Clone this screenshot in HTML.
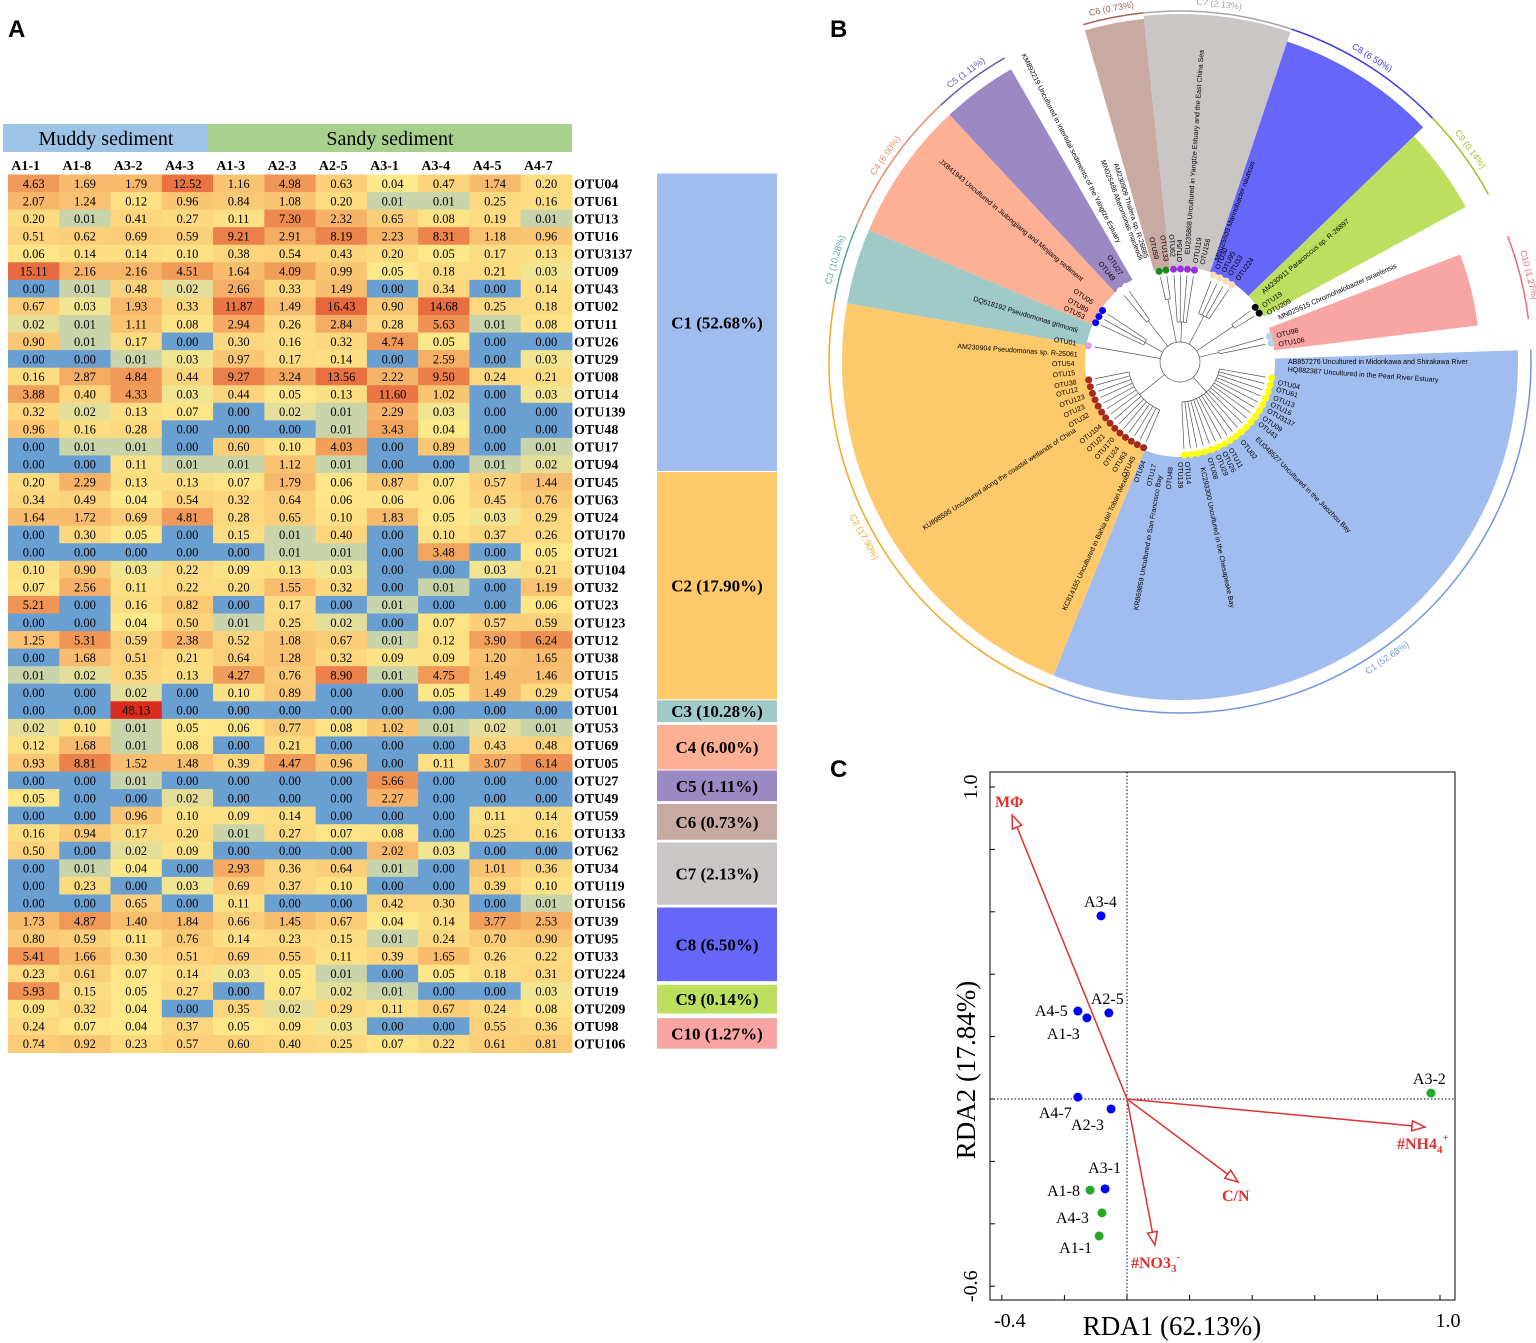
<!DOCTYPE html>
<html><head><meta charset="utf-8">
<style>
body{margin:0;background:#fff;width:1536px;height:1343px;overflow:hidden}
svg{display:block}
text{font-family:"Liberation Serif",serif}
.sans{font-family:"Liberation Sans",sans-serif}
</style></head>
<body>
<svg id="fig" width="1536" height="1343" viewBox="0 0 1536 1343" xmlns="http://www.w3.org/2000/svg">
<text class="sans" x="8" y="37" font-size="24" font-weight="bold">A</text>
<text class="sans" x="830" y="37" font-size="24" font-weight="bold">B</text>
<text class="sans" x="830" y="777" font-size="24" font-weight="bold">C</text>
<g id="heat"></g>
<g id="tree"></g>
<g id="rda"></g>
</svg>
<script>
const NS="http://www.w3.org/2000/svg";
function mk(parent,tag,attrs,txt){const e=document.createElementNS(NS,tag);for(const k in attrs)e.setAttribute(k,attrs[k]);if(txt!==undefined)e.textContent=txt;parent.appendChild(e);return e;}

// ---------- Heatmap data ----------
const samples=["A1-1","A1-8","A3-2","A4-3","A1-3","A2-3","A2-5","A3-1","A3-4","A4-5","A4-7"];
const otus=["OTU04","OTU61","OTU13","OTU16","OTU3137","OTU09","OTU43","OTU02","OTU11","OTU26","OTU29","OTU08","OTU14","OTU139","OTU48","OTU17","OTU94","OTU45","OTU63","OTU24","OTU170","OTU21","OTU104","OTU32","OTU23","OTU123","OTU12","OTU38","OTU15","OTU54","OTU01","OTU53","OTU69","OTU05","OTU27","OTU49","OTU59","OTU133","OTU62","OTU34","OTU119","OTU156","OTU39","OTU95","OTU33","OTU224","OTU19","OTU209","OTU98","OTU106"];
const abund=[
[4.63,1.69,1.79,12.52,1.16,4.98,0.63,0.04,0.47,1.74,0.20],
[2.07,1.24,0.12,0.96,0.84,1.08,0.20,0.01,0.01,0.25,0.16],
[0.20,0.01,0.41,0.27,0.11,7.30,2.32,0.65,0.08,0.19,0.01],
[0.51,0.62,0.69,0.59,9.21,2.91,8.19,2.23,8.31,1.18,0.96],
[0.06,0.14,0.14,0.10,0.38,0.54,0.43,0.20,0.05,0.17,0.13],
[15.11,2.16,2.16,4.51,1.64,4.09,0.99,0.05,0.18,0.21,0.03],
[0.00,0.01,0.48,0.02,2.66,0.33,1.49,0.00,0.34,0.00,0.14],
[0.67,0.03,1.93,0.33,11.87,1.49,16.43,0.90,14.68,0.25,0.18],
[0.02,0.01,1.11,0.08,2.94,0.26,2.84,0.28,5.63,0.01,0.08],
[0.90,0.01,0.17,0.00,0.30,0.16,0.32,4.74,0.05,0.00,0.00],
[0.00,0.00,0.01,0.03,0.97,0.17,0.14,0.00,2.59,0.00,0.03],
[0.16,2.87,4.84,0.44,9.27,3.24,13.56,2.22,9.50,0.24,0.21],
[3.88,0.40,4.33,0.03,0.44,0.05,0.13,11.60,1.02,0.00,0.03],
[0.32,0.02,0.13,0.07,0.00,0.02,0.01,2.29,0.03,0.00,0.00],
[0.96,0.16,0.28,0.00,0.00,0.00,0.01,3.43,0.04,0.00,0.00],
[0.00,0.01,0.01,0.00,0.60,0.10,4.03,0.00,0.89,0.00,0.01],
[0.00,0.00,0.11,0.01,0.01,1.12,0.01,0.00,0.00,0.01,0.02],
[0.20,2.29,0.13,0.13,0.07,1.79,0.06,0.87,0.07,0.57,1.44],
[0.34,0.49,0.04,0.54,0.32,0.64,0.06,0.06,0.06,0.45,0.76],
[1.64,1.72,0.69,4.81,0.28,0.65,0.10,1.83,0.05,0.03,0.29],
[0.00,0.30,0.05,0.00,0.15,0.01,0.40,0.00,0.10,0.37,0.26],
[0.00,0.00,0.00,0.00,0.00,0.01,0.01,0.00,3.48,0.00,0.05],
[0.10,0.90,0.03,0.22,0.09,0.13,0.03,0.00,0.00,0.03,0.21],
[0.07,2.56,0.11,0.22,0.20,1.55,0.32,0.00,0.01,0.00,1.19],
[5.21,0.00,0.16,0.82,0.00,0.17,0.00,0.01,0.00,0.00,0.06],
[0.00,0.00,0.04,0.50,0.01,0.25,0.02,0.00,0.07,0.57,0.59],
[1.25,5.31,0.59,2.38,0.52,1.08,0.67,0.01,0.12,3.90,6.24],
[0.00,1.68,0.51,0.21,0.64,1.28,0.32,0.09,0.09,1.20,1.65],
[0.01,0.02,0.35,0.13,4.27,0.76,8.90,0.01,4.75,1.49,1.46],
[0.00,0.00,0.02,0.00,0.10,0.89,0.00,0.00,0.05,1.49,0.29],
[0.00,0.00,48.13,0.00,0.00,0.00,0.00,0.00,0.00,0.00,0.00],
[0.02,0.10,0.01,0.05,0.06,0.77,0.08,1.02,0.01,0.02,0.01],
[0.12,1.68,0.01,0.08,0.00,0.21,0.00,0.00,0.00,0.43,0.48],
[0.93,8.81,1.52,1.48,0.39,4.47,0.96,0.00,0.11,3.07,6.14],
[0.00,0.00,0.01,0.00,0.00,0.00,0.00,5.66,0.00,0.00,0.00],
[0.05,0.00,0.00,0.02,0.00,0.00,0.00,2.27,0.00,0.00,0.00],
[0.00,0.00,0.96,0.10,0.09,0.14,0.00,0.00,0.00,0.11,0.14],
[0.16,0.94,0.17,0.20,0.01,0.27,0.07,0.08,0.00,0.25,0.16],
[0.50,0.00,0.02,0.09,0.00,0.00,0.00,2.02,0.03,0.00,0.00],
[0.00,0.01,0.04,0.00,2.93,0.36,0.64,0.01,0.00,1.01,0.36],
[0.00,0.23,0.00,0.03,0.69,0.37,0.10,0.00,0.00,0.39,0.10],
[0.00,0.00,0.65,0.00,0.11,0.00,0.00,0.42,0.30,0.00,0.01],
[1.73,4.87,1.40,1.84,0.66,1.45,0.67,0.04,0.14,3.77,2.53],
[0.80,0.59,0.11,0.76,0.14,0.23,0.15,0.01,0.24,0.70,0.90],
[5.41,1.66,0.30,0.51,0.69,0.55,0.11,0.39,1.65,0.26,0.22],
[0.23,0.61,0.07,0.14,0.03,0.05,0.01,0.00,0.05,0.18,0.31],
[5.93,0.15,0.05,0.27,0.00,0.07,0.02,0.01,0.00,0.00,0.03],
[0.09,0.32,0.04,0.00,0.35,0.02,0.29,0.11,0.67,0.24,0.08],
[0.24,0.07,0.04,0.37,0.05,0.09,0.03,0.00,0.00,0.55,0.36],
[0.74,0.92,0.23,0.57,0.60,0.40,0.25,0.07,0.22,0.61,0.81]];
const clusterNames=["C1 (52.68%)","C2 (17.90%)","C3 (10.28%)","C4 (6.00%)","C5 (1.11%)","C6 (0.73%)","C7 (2.13%)","C8 (6.50%)","C9 (0.14%)","C10 (1.27%)"];
// cluster box spans in row units (start row, end row)
const clusterSpan=[[0,17],[17,30],[30,31.3],[31.4,34],[34,35.8],[35.9,38],[38.1,41.7],[41.8,46.05],[46.2,47.9],[48.1,49.9]];
const clusterColors=["#a1bdef","#fdc96a","#9fcac8","#fdb094","#9b89c4","#c9aaa2","#cac6c5","#6666fb","#bddf5f","#f9a5a3"];

const heat=document.getElementById('heat');
const hx0=8,hy0=174.5,cw=51.27,rh=17.56;
function lerp(a,b,t){return Math.round(a+(b-a)*t);}
function hex(c){return [parseInt(c.slice(1,3),16),parseInt(c.slice(3,5),16),parseInt(c.slice(5,7),16)];}
const stops=[[-2,"#c9d4aa"],[-1.4,"#fde98a"],[-0.3,"#fcd37c"],[0.3,"#f7b86b"],[0.8,"#ee8f52"],[1.2,"#e86a3e"],[1.7,"#d82a1e"]];
function colorOf(v){
  if(v<=0)return "#6a9fd2";
  const l=Math.log10(v);
  if(l<=stops[0][0])return stops[0][1];
  for(let i=1;i<stops.length;i++){if(l<=stops[i][0]){const t=(l-stops[i-1][0])/(stops[i][0]-stops[i-1][0]);const a=hex(stops[i-1][1]),b=hex(stops[i][1]);return `rgb(${lerp(a[0],b[0],t)},${lerp(a[1],b[1],t)},${lerp(a[2],b[2],t)})`;}}
  return stops[stops.length-1][1];
}
let e;
e=mk(heat,'rect',{x:3,y:124,width:205,height:28,fill:"#9dc3e6"});


e=mk(heat,'text',{x:106,y:145,'font-size':20,'text-anchor':'middle'},"Muddy sediment");


e=mk(heat,'rect',{x:208,y:124,width:364,height:28,fill:"#a9d18e"});


e=mk(heat,'text',{x:390,y:145,'font-size':20,'text-anchor':'middle'},"Sandy sediment");


samples.forEach((s,j)=>{
  const t=mk(heat,'text',{x:hx0+cw*j+cw/2-8,y:170,'font-size':14,'font-weight':'bold','text-anchor':'middle'},s);
  
  
});
abund.forEach((row,i)=>{
  row.forEach((v,j)=>{
    const r=mk(heat,'rect',{x:hx0+cw*j,y:hy0+rh*i,width:cw+0.5,height:rh+0.5,fill:colorOf(v)});
    
    
    const t=mk(heat,'text',{x:hx0+cw*j+cw/2,y:hy0+rh*i+rh/2+4.5,'font-size':12.5,'text-anchor':'middle'},v.toFixed(2));
    
    
  });
  const t=mk(heat,'text',{x:574,y:hy0+rh*i+rh/2+5,'font-size':14,'font-weight':'bold'},otus[i]);
  
  
});
clusterSpan.forEach(([a,b],k)=>{
  const y1=hy0+rh*a-1, h=rh*(b-a)-1;
  const r=mk(heat,'rect',{x:657,y:y1,width:120,height:h,fill:clusterColors[k]});
  
  
  const t=mk(heat,'text',{x:717,y:y1+h/2+6,'font-size':17,'font-weight':'bold','text-anchor':'middle'},clusterNames[k]);
  
  
});

// ---------- Tree ----------
const tree=document.getElementById('tree');
const cx=1180,cy=362;
const wedgeStart=[-2,112,190,203,227,254,264,288.5,316,339];
const wedgeEnd=[112,190,203,227,240,264,288.5,316,331.5,353];
const ringLabels=["C1 (52.68%)","C2 (17.90%)","C3 (10.28%)","C4 (6.00%)","C5 (1.11%)","C6 (0.73%)","C7 (2.13%)","C8 (6.50%)","C9 (0.14%)","C10 (1.27%)"];
const ringColors=["#6f94e0","#f5a623","#5aa6a3","#f08a6a","#6b55a8","#a0645a","#a8a4a3","#3a3af0","#9bc526","#ef6a6a"];
const dotColors=["#ffff00","#a52a1a","#dda0dd","#0000ff","#ffffff","#1a8a1a","#9b30e0","#f5deb3","#000000","#add8e6"];
const dotCounts=[19,14,1,3,2,2,4,4,2,2];
function pt(a,r){const t=a*Math.PI/180;return [cx+r*Math.cos(t),cy+r*Math.sin(t)];}
function wedge(a0,a1,r0,r1){const p0=pt(a0,r0),p1=pt(a0,r1),p2=pt(a1,r1),p3=pt(a1,r0);const lg=(a1-a0)>180?1:0;
return `M${p0[0]},${p0[1]}L${p1[0]},${p1[1]}A${r1},${r1} 0 ${lg} 1 ${p2[0]},${p2[1]}L${p3[0]},${p3[1]}A${r0},${r0} 0 ${lg} 0 ${p0[0]},${p0[1]}Z`;}
function arc(a0,a1,r){const p1=pt(a0,r),p2=pt(a1,r);const lg=(a1-a0)>180?1:0;return `M${p1[0]},${p1[1]}A${r},${r} 0 ${lg} 1 ${p2[0]},${p2[1]}`;}
const wedgeOuter=[338,338,338,338,338,345,348,338,325,300];
wedgeStart.forEach((a0,k)=>{
  const w=mk(tree,'path',{d:wedge(a0,wedgeEnd[k],95,wedgeOuter[k]),fill:clusterColors[k]});
  
  
  const rg=mk(tree,'path',{d:arc(a0,wedgeEnd[k],351),fill:'none',stroke:ringColors[k],'stroke-width':1.5});
  
  
  const mid=(a0+wedgeEnd[k])/2;
  const low=(mid>0&&mid<180);
  const p=pt(mid,low?364:357);
  const t=mk(tree,'text',{x:p[0],y:p[1],'font-size':9,'class':'sans',fill:ringColors[k],'text-anchor':'middle',transform:`rotate(${low?mid-90:mid+90} ${p[0]} ${p[1]})`},ringLabels[k]);
  
  
});
const leafGap=4.3;
const leafStart=[10,113,190,205,230,257,266,291,324,344];
const tg=mk(tree,'g',{stroke:'#555','stroke-width':0.7,fill:'none'});


mk(tg,'path',{d:arc(0,359,20)});
leafStart.forEach((a0,k)=>{
  const n=dotCounts[k]; const aEnd=a0+leafGap*(n-1);
  const rIn=40+(k%3)*12;
  mk(tg,'path',{d:arc(a0-0.01,aEnd+0.01,rIn)});
  const pa=pt((a0+aEnd)/2,20),pb=pt((a0+aEnd)/2,rIn);
  mk(tg,'line',{x1:pa[0],y1:pa[1],x2:pb[0],y2:pb[1]});
  for(let i=0;i<n;i++){
    const a=a0+leafGap*i;
    const q1=pt(a,rIn),q2=pt(a,87);
    mk(tg,'line',{x1:q1[0],y1:q1[1],x2:q2[0],y2:q2[1]});
    const d=pt(a,93);
    const c=mk(tree,'circle',{cx:d[0],cy:d[1],r:3.5,fill:dotColors[k]});
    
    
  }
});
const leafNames=[["OTU04",12],["OTU61",16],["OTU13",21],["OTU16",25],["OTU3137",29],["OTU09",34],["OTU43",38],["OTU02",52],["OTU11",60],["OTU26",64],["OTU29",68],["OTU08",73],["OTU14",86],["OTU139",90],["OTU48",95],["OTU17",104],["OTU94",110],["OTU45",116],["OTU63",121],["OTU24",126],["OTU170",131],["OTU21",136],["OTU104",141],["OTU32",150],["OTU23",155],["OTU123",160],["OTU12",165],["OTU38",169],["OTU15",174],["OTU54",179],["OTU01",190],["OTU53",205],["OTU89",209],["OTU05",214],["OTU49",231],["OTU27",236],["OTU59",257],["OTU133",262],["OTU62",266],["OTU54",270],["OTU119",279],["OTU156",283],["OTU30",292],["OTU95",296],["OTU33",300],["OTU224",305],["OTU19",326],["OTU209",331],["OTU98",345],["OTU106",350]];
leafNames.forEach(([n,a])=>{
  const flip=(a>90&&a<270);
  const p=pt(a,flip?128:100);
  const t=mk(tree,'text',{x:p[0],y:p[1]+2,'font-size':7,'class':'sans',transform:`rotate(${flip?a+180:a} ${p[0]} ${p[1]})`},n);
  
  
});
const refLabels=[["AB857276 Uncultured in Midorikawa and Shirakawa River",0,108],["HQ882387 Uncultured in the Pearl River Estuary",4,108],["EU048527 Uncultured in the Jiaozhou Bay",45,108],["KC293300 Uncultured in the Chesapeake Bay",78,108],["KR869859 Uncultured in San Francisco Bay",100,108],["KC814155 Uncultured in Bahia del Tobari Mexico",115,108],["KU898595 Uncultured along the coastal wetlands of China",147,108],["AM230904 Pseudomonas sp. R-25061",184,108],["DQ518192 Pseudomonas grimontii",197,108],["JX841943 Uncultured in Jiulongjiang and Minjiang sediment",220,108],["KM892219 Uncultured in intertidal sediments of the Yangtze Estuary",243,108],["MN025486 Alteromonas macleodii",249,108],["AM230909 Thalera sp. R-26885",252,108],["EU235868 Uncultured in Yangtze Estuary and the East China Sea",274,108],["MN025509 Marinobacter nauticus",290,108],["AM230911 Paracoccus sp. R-26897",320,108],["MN025515 Chromohalobacter israelensis",336,108]];
refLabels.forEach(([n,a,r])=>{
  const flip=(a>90&&a<270);
  let p;
  if(flip){p=pt(a,r+n.length*3.6);}else{p=pt(a,r);}
  const t=mk(tree,'text',{x:p[0],y:p[1]+2,'font-size':7,'class':'sans',transform:`rotate(${flip?a+180:a} ${p[0]} ${p[1]})`},n);
  
  
});

// ---------- RDA ----------
const rda=document.getElementById('rda');
const X0=1127,Y0=1099,SX=313,SY=312;
function xs(v){return X0+v*SX;}
function ys(v){return Y0-v*SY;}
const siteNames=["A3-4","A2-5","A4-5","A1-3","A4-7","A2-3","A3-1","A1-8","A4-3","A1-1","A3-2"];
const siteX=[-0.083,-0.058,-0.157,-0.128,-0.157,-0.051,-0.070,-0.118,-0.080,-0.089,0.971];
const siteY=[0.587,0.276,0.282,0.260,0.006,-0.032,-0.288,-0.292,-0.365,-0.439,0.019];
const siteGroup=["sandy","sandy","sandy","sandy","sandy","sandy","sandy","muddy","muddy","muddy","muddy"];
const envNames=["MΦ","#NH4","C/N","#NO3"];
const envX=[-0.367,0.952,0.355,0.089];
const envY=[0.910,-0.090,-0.266,-0.468];
const xTicks=[-0.4,1.0];
const yTicks=[1.0,-0.6];

e=mk(rda,'rect',{x:990,y:772,width:465,height:528,fill:'none',stroke:'#000','stroke-width':1});


e=mk(rda,'line',{x1:xs(0),y1:772,x2:xs(0),y2:1300,stroke:'#000','stroke-dasharray':'1.5,2'});


e=mk(rda,'line',{x1:990,y1:ys(0),x2:1455,y2:ys(0),stroke:'#000','stroke-dasharray':'1.5,2'});


for(let v=-0.6;v<=1.001;v+=0.2){
  const tk=mk(rda,'line',{x1:990,y1:ys(v),x2:995,y2:ys(v),stroke:'#000'});
  
  
}
for(let v=-0.4;v<=1.001;v+=0.2){
  const tk=mk(rda,'line',{x1:xs(v),y1:1300,x2:xs(v),y2:1295,stroke:'#000'});
  
  
}
xTicks.forEach(v=>{
  const t=mk(rda,'text',{x:xs(v)+8,y:1327,'font-size':20,'text-anchor':'middle'},v.toFixed(1));
  
  
});
yTicks.forEach(v=>{
  const yy=ys(v);
  const t=mk(rda,'text',{x:977,y:yy,'font-size':20,'text-anchor':'middle',transform:`rotate(-90 977 ${yy})`},v.toFixed(1));
  
  
});
e=mk(rda,'text',{x:1172,y:1335,'font-size':27,'text-anchor':'middle'},"RDA1 (62.13%)");


e=mk(rda,'text',{x:975,y:1070,'font-size':27,'text-anchor':'middle',transform:'rotate(-90 975 1070)'},"RDA2 (17.84%)");


envNames.forEach((n,i)=>{
  const x2=xs(envX[i]),y2=ys(envY[i]);
  const ln=mk(rda,'line',{x1:X0,y1:Y0,x2:x2,y2:y2,stroke:'#e03030','stroke-width':1.5});
  
  
  const ang=Math.atan2(y2-Y0,x2-X0),L=13,W=5;
  const bx=x2-L*Math.cos(ang),by=y2-L*Math.sin(ang);
  const px=-Math.sin(ang)*W,py=Math.cos(ang)*W;
  const hd=mk(rda,'polygon',{points:`${x2},${y2} ${bx+px},${by+py} ${bx-px},${by-py}`,fill:'#fff',stroke:'#e03030','stroke-width':1.5});
  
  
});
const envLab=[[995,807,"MΦ"],[1397,1149,"#NH4"],[1222,1201,"C/N"],[1131,1268,"#NO3"]];
envLab.forEach(([x,y,n],i)=>{
  const t=mk(rda,'text',{x:x,y:y,'font-size':16,'font-weight':'bold',fill:'#e03030'});
  
  
  t.textContent=n;
  if(i===1){mk(t,'tspan',{'font-size':11,dy:4},"4");mk(t,'tspan',{'font-size':11,dy:-12},"+");}
  if(i===3){mk(t,'tspan',{'font-size':11,dy:4},"3");mk(t,'tspan',{'font-size':11,dy:-12},"-");}
});
const labOff={"A3-4":[-17,-9],"A2-5":[-18,-9],"A4-5":[-43,5],"A1-3":[-40,21],"A4-7":[-39,21],"A2-3":[-40,21],"A3-1":[-17,-16],"A1-8":[-43,6],"A4-3":[-46,10],"A1-1":[-40,17],"A3-2":[-18,-9]};
siteNames.forEach((n,i)=>{
  const x=xs(siteX[i]),y=ys(siteY[i]);
  const c=mk(rda,'circle',{cx:x,cy:y,r:4.5,fill:siteGroup[i]==='sandy'?'#0000ff':'#22aa22'});
  
  
  const o=labOff[n];
  const t=mk(rda,'text',{x:x+o[0],y:y+o[1],'font-size':16},n);
  
  
});
</script>
</body></html>
